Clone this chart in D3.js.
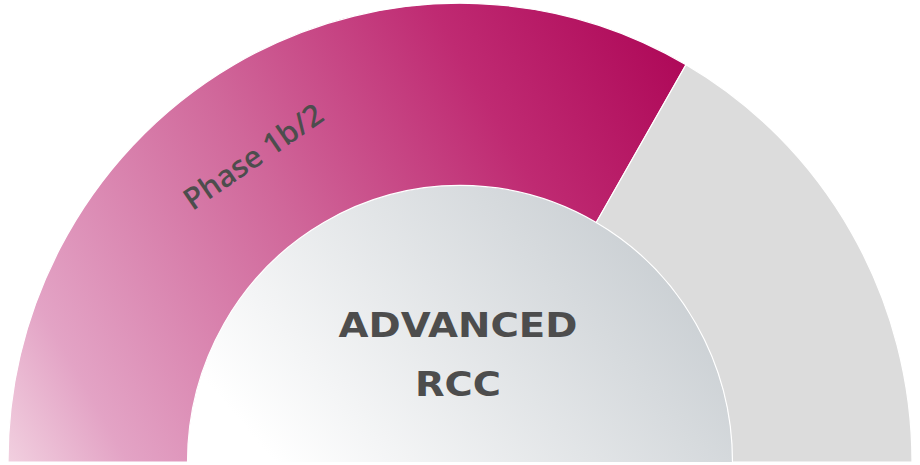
<!DOCTYPE html>
<html>
<head>
<meta charset="utf-8">
<script src="https://cdn.jsdelivr.net/npm/d3@7"></script>
<style>
  html, body { margin: 0; padding: 0; background: #fff; }
  svg { display: block; }
</style>
</head>
<body>
<svg id="chart" width="920" height="465"></svg>
<script>
// chart data
var phases = ["Phase 1b/2", "Remaining"];
var shares = [2, 1];
var centerLines = ["ADVANCED", "RCC"];

var cx = 460, cy = 462,
    outerR = 452, innerR = 272.5,
    stretchY = 1.015;

var svg = d3.select("#chart");
var defs = svg.append("defs");

/*
 * gradients are given in the coordinates of the centred group
 */
function local(x, y) {
    return [x - cx, (y - cy) / stretchY];
}

var p1 = local(10, 462), p2 = local(690, 60);
var mag = defs.append("linearGradient")
    .attr("id", "magFill")
    .attr("gradientUnits", "userSpaceOnUse")
    .attr("x1", p1[0]).attr("y1", p1[1])
    .attr("x2", p2[0]).attr("y2", p2[1]);
[[0, "#f1cfdf"], [0.13, "#e3a3c5"], [0.46, "#d0679a"], [0.75, "#bf2a72"], [1, "#ae0858"]]
    .forEach(function(s) {
        mag.append("stop").attr("offset", s[0]).attr("stop-color", s[1]);
    });

var c1 = local(290, 480), c2 = local(610, 200);
var core = defs.append("linearGradient")
    .attr("id", "coreFill")
    .attr("gradientUnits", "userSpaceOnUse")
    .attr("x1", c1[0]).attr("y1", c1[1])
    .attr("x2", c2[0]).attr("y2", c2[1]);
core.append("stop").attr("offset", "0").attr("stop-color", "#ffffff");
core.append("stop").attr("offset", "1").attr("stop-color", "#cbd0d4");

var fills = ["url(#magFill)", "#dcdcdc"];

var pie = d3.pie()
    .sort(null)
    .startAngle(-Math.PI / 2)
    .endAngle(Math.PI / 2);

var arc = d3.arc()
    .innerRadius(innerR)
    .outerRadius(outerR);

var g = svg.append("g")
    .attr("transform", "translate(" + cx + "," + cy + ") scale(1," + stretchY + ")");

// centre half disc
g.append("path")
    .attr("d", d3.arc()({
        innerRadius: 0, outerRadius: innerR,
        startAngle: -Math.PI / 2, endAngle: Math.PI / 2
    }))
    .attr("fill", "url(#coreFill)");

g.selectAll("path.seg")
    .data(pie(shares))
    .enter().append("path")
    .attr("class", "seg")
    .attr("d", arc)
    .attr("fill", function(d, i) { return fills[i]; })
    .attr("stroke", "#ffffff")
    .attr("stroke-width", 1.2);

// label along the magenta band
var deg = -34.5,
    a = deg * Math.PI / 180,
    labR = 366,
    lx = cx + labR * Math.sin(a),
    ly = cy - labR * Math.cos(a) * stretchY;

svg.append("text")
    .attr("transform", "translate(" + lx + "," + ly + ") rotate(" + deg + ")")
    .attr("text-anchor", "middle")
    .attr("dominant-baseline", "central")
    .attr("font-family", "'Open Sans', sans-serif")
    .attr("font-weight", 600)
    .attr("font-size", 30)
    .attr("fill", "#4d4d4d")
    .attr("textLength", 162)
    .attr("lengthAdjust", "spacingAndGlyphs")
    .text(phases[0]);

// centre title
svg.selectAll("text.title")
    .data(centerLines)
    .enter().append("text")
    .attr("class", "title")
    .attr("x", 458)
    .attr("y", function(d, i) { return 337 + i * 59; })
    .attr("text-anchor", "middle")
    .attr("font-family", "'DejaVu Sans', sans-serif")
    .attr("font-weight", "bold")
    .attr("font-size", 34)
    .attr("fill", "#4d4d4d")
    .attr("textLength", function(d, i) { return i === 0 ? 239 : 86; })
    .attr("lengthAdjust", "spacingAndGlyphs")
    .text(function(d) { return d; });
</script>
</body>
</html>
